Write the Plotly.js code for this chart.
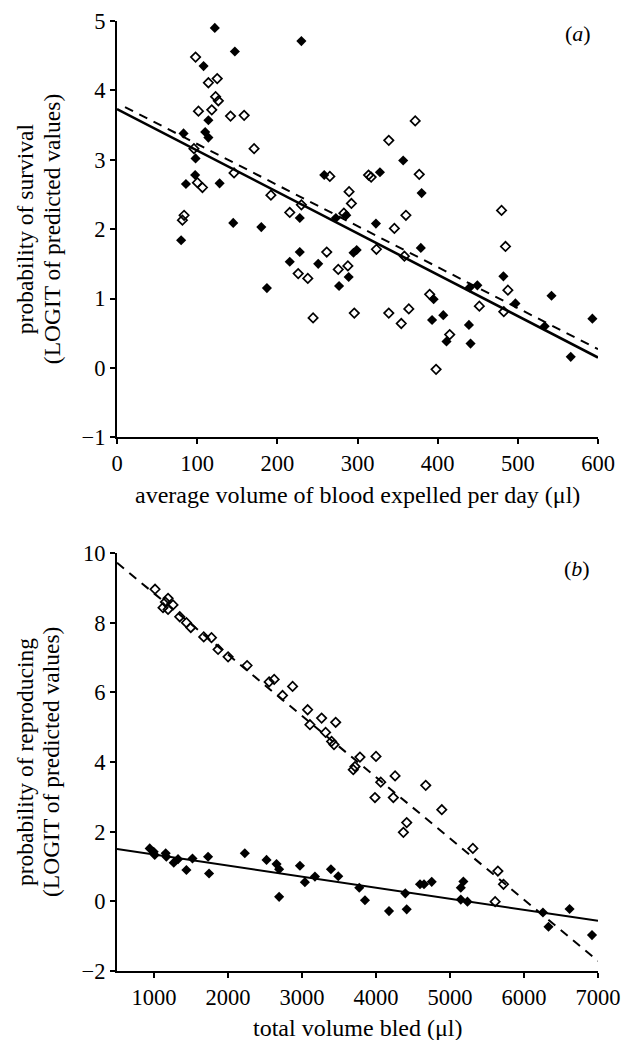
<!DOCTYPE html>
<html>
<head>
<meta charset="utf-8">
<script src="https://cdn.plot.ly/plotly-3.0.1.min.js"></script>
<style>html,body{margin:0;padding:0;background:#fff;}</style>
</head>
<body>
<div id="chart" style="width:625px;height:1040px;"></div>
<script>
// ---------- Panel (a): survival vs average volume expelled per day ----------
const aFilledX = [122,147,108,230,83,114,110,114,98,97.5,86,128,145,180,80,228,228,215.5,251,187,258.5,328,273,286,323,295,299,289,277,357,380,379,395,393,407,411,439,441,440,449.5,482,497,542,533.5,566,593];
const aFilledY = [4.90,4.56,4.35,4.71,3.38,3.57,3.40,3.32,3.02,2.78,2.65,2.66,2.09,2.03,1.84,2.16,1.67,1.53,1.50,1.15,2.78,2.82,2.16,2.20,2.08,1.66,1.70,1.31,1.18,2.99,2.52,1.73,0.99,0.69,0.76,0.38,0.62,0.35,1.16,1.19,1.32,0.93,1.04,0.60,0.16,0.71];
const aOpenX = [98,125,114,123,126.4,101.6,118.2,141.6,158.6,171,96,100.3,106.6,146,192,83.7,81.6,215.5,230,226,238,244.6,265.5,313.8,317,372,339,377,289.5,292.4,283,360.4,346,323.6,261.6,358.5,276,288,296,339,354.6,364,390,415,398,452,487.6,482.5,479.7,484.6];
const aOpenY = [4.48,4.17,4.11,3.91,3.85,3.70,3.72,3.63,3.64,3.16,3.16,2.67,2.60,2.81,2.49,2.20,2.13,2.24,2.35,1.36,1.29,0.72,2.76,2.78,2.75,3.56,3.28,2.79,2.54,2.37,2.23,2.20,2.01,1.71,1.67,1.61,1.42,1.47,0.79,0.79,0.64,0.85,1.06,0.48,-0.02,0.89,1.12,0.81,2.27,1.75];
const aSolidX = [0, 600];
const aSolidY = [3.73, 0.15];
const aDashX = [10, 600];
const aDashY = [3.76, 0.27];
const aTicksX = [0,100,200,300,400,500,600];
const aTicksY = [-1,0,1,2,3,4,5];

// ---------- Panel (b): reproduction vs total volume bled ----------
const bFilledX = [942,996,1010,1158,1167,1267,1325,1438,1520,1731,1744,2227,2521,2656,2691,2691,2972,3039,3175,3391,3490,3774,3851,4176,4415,4396,4595,4649,4753,5181,5146,5146,5236,6256,6331,6616,6919];
const bFilledY = [1.52,1.42,1.33,1.38,1.28,1.11,1.21,0.90,1.23,1.28,0.80,1.38,1.19,1.07,0.92,0.13,1.02,0.55,0.71,0.92,0.72,0.39,0.03,-0.28,-0.23,0.23,0.49,0.49,0.56,0.57,0.39,0.05,-0.01,-0.32,-0.73,-0.22,-0.97];
const bOpenX = [1014,1190,1154,1257,1122,1190,1348,1438,1497,1672,1777,1866,2001,2258,2556,2624,2873,2737,3076,3107,3265,3455,3319,3400,3432,3783,4000,3716,3693,4258,4064,4672,3986,4234,4889,4415,4370,5309,5647,5723,5610];
const bOpenY = [8.96,8.70,8.59,8.51,8.43,8.38,8.17,8.00,7.86,7.59,7.57,7.23,7.02,6.77,6.30,6.37,6.17,5.91,5.50,5.07,5.26,5.14,4.85,4.59,4.50,4.14,4.16,3.87,3.78,3.60,3.42,3.33,2.98,2.98,2.63,2.26,1.98,1.52,0.87,0.49,-0.01];
const bSolidX = [500, 7000];
const bSolidY = [1.50, -0.56];
const bDashX = [500, 7000];
const bDashY = [9.72, -1.71];
const bTicksX = [1000,2000,3000,4000,5000,6000,7000];
const bTicksY = [-2,0,2,4,6,8,10];

const FONT = 'Liberation Serif';
const filledM = {symbol:'diamond', size:7.8, color:'#000'};
const openM = {symbol:'diamond-open', size:7.2, color:'#000', line:{width:1.7, color:'#000'}};

const traces = [
  {x:aOpenX, y:aOpenY, xaxis:'x', yaxis:'y', mode:'markers', marker:openM, cliponaxis:false},
  {x:aFilledX, y:aFilledY, xaxis:'x', yaxis:'y', mode:'markers', marker:filledM, cliponaxis:false},
  {x:aSolidX, y:aSolidY, xaxis:'x', yaxis:'y', mode:'lines', line:{color:'#000', width:2.6}},
  {x:aDashX, y:aDashY, xaxis:'x', yaxis:'y', mode:'lines', line:{color:'#000', width:2, dash:'9px,7px'}},
  {x:bOpenX, y:bOpenY, xaxis:'x2', yaxis:'y2', mode:'markers', marker:openM, cliponaxis:false},
  {x:bFilledX, y:bFilledY, xaxis:'x2', yaxis:'y2', mode:'markers', marker:filledM, cliponaxis:false},
  {x:bSolidX, y:bSolidY, xaxis:'x2', yaxis:'y2', mode:'lines', line:{color:'#000', width:2}},
  {x:bDashX, y:bDashY, xaxis:'x2', yaxis:'y2', mode:'lines', line:{color:'#000', width:2, dash:'9px,7px'}}
];

const axBase = {
  showline:true, linecolor:'#000', linewidth:2, ticks:'outside', ticklen:5, tickwidth:2, tickcolor:'#000',
  showgrid:false, zeroline:false, tickfont:{family:FONT, size:22.5, color:'#000'}, fixedrange:true
};

const domA = [0.5618, 1];
const domB = [0, 0.44];
const TF = {family:FONT, size:24, color:'#000'};
const YF = {family:FONT, size:23.5, color:'#000'};

const layout = {
  width:625, height:1040,
  margin:{l:117, r:27, t:21, b:69},
  paper_bgcolor:'#fff', plot_bgcolor:'#fff',
  showlegend:false,
  font:{family:FONT, color:'#000'},
  xaxis: Object.assign({}, axBase, {domain:[0,1], anchor:'y', range:[0,600], tickmode:'array', tickvals:aTicksX}),
  yaxis: Object.assign({}, axBase, {domain:domA, anchor:'x', range:[-1,5], tickmode:'array', tickvals:aTicksY}),
  xaxis2: Object.assign({}, axBase, {domain:[0,1], anchor:'y2', range:[500,7000], tickmode:'array', tickvals:bTicksX}),
  yaxis2: Object.assign({}, axBase, {domain:domB, anchor:'x2', range:[-2,10], tickmode:'array', tickvals:bTicksY}),
  annotations:[
    {text:'average volume of blood expelled per day (μl)', xref:'paper', yref:'paper', x:0.5, y:domA[0], xanchor:'center', yanchor:'middle', yshift:-58, showarrow:false, font:TF},
    {text:'total volume bled (μl)', xref:'paper', yref:'paper', x:0.5, y:domB[0], xanchor:'center', yanchor:'middle', yshift:-57, showarrow:false, font:TF},
    {text:'probability of survival', xref:'paper', yref:'paper', x:0, y:(domA[0]+domA[1])/2, xanchor:'center', yanchor:'middle', xshift:-92, textangle:-90, showarrow:false, font:YF},
    {text:'(LOGIT of predicted values)', xref:'paper', yref:'paper', x:0, y:(domA[0]+domA[1])/2, xanchor:'center', yanchor:'middle', xshift:-65, textangle:-90, showarrow:false, font:YF},
    {text:'probability of reproducing', xref:'paper', yref:'paper', x:0, y:(domB[0]+domB[1])/2, xanchor:'center', yanchor:'middle', xshift:-92, textangle:-90, showarrow:false, font:YF},
    {text:'(LOGIT of predicted values)', xref:'paper', yref:'paper', x:0, y:(domB[0]+domB[1])/2, xanchor:'center', yanchor:'middle', xshift:-66, textangle:-90, showarrow:false, font:YF},
    {text:'(<i>a</i>)', xref:'paper', yref:'paper', x:(578-117)/481, y:(971-33)/950, xanchor:'center', yanchor:'middle', showarrow:false, font:{family:FONT, size:22, color:'#000'}},
    {text:'(<i>b</i>)', xref:'paper', yref:'paper', x:(577-117)/481, y:(971-568)/950, xanchor:'center', yanchor:'middle', showarrow:false, font:{family:FONT, size:22, color:'#000'}}
  ]
};

Plotly.newPlot('chart', traces, layout, {staticPlot:true, displayModeBar:false});
</script>
</body>
</html>
